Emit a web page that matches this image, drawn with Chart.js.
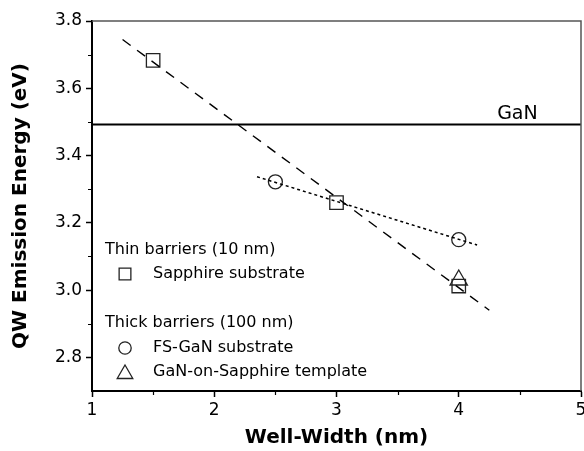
<!DOCTYPE html>
<html>
<head>
<meta charset="utf-8">
<script src="https://cdn.jsdelivr.net/npm/chart.js@4/dist/chart.umd.min.js"></script>
<style>
  html, body { margin: 0; padding: 0; background: #fff; }
  #wrap { width: 584px; height: 451px; }
</style>
</head>
<body>
<div id="wrap"><canvas id="qwChart"></canvas></div>
<script>
// 測定値
const sapphireX = [1.5, 3.0, 4.0];
const sapphireY = [3.683, 3.26, 3.012];
const fsGanX = [2.5, 4.0];
const fsGanY = [3.322, 3.15];
const templateX = [4.0];
const templateY = [3.03];

// フィット線(両端)
const thinFitX = [1.25, 4.25];
const thinFitY = [3.745, 2.94];
const thickFitX = [2.35, 4.15];
const thickFitY = [3.337, 3.134];

// GaN のバンド端
const ganX = [1, 5];
const ganY = [3.492, 3.492];

// 目盛り
const xTicks = [1, 2, 3, 4, 5];
const xMinorTicks = [1.5, 2.5, 3.5, 4.5];
const yTicks = [2.8, 3.0, 3.2, 3.4, 3.6, 3.8];
const yMinorTicks = [2.9, 3.1, 3.3, 3.5, 3.7];

// 凡例
const legendHeaders = ['Thin barriers (10 nm)', 'Thick barriers (100 nm)'];
const legendLabels = ['Sapphire substrate', 'FS-GaN substrate', 'GaN-on-Sapphire template'];

const FONT = "'DejaVu Sans', sans-serif";
const toPoints = (xs, ys) => xs.map((x, i) => ({ x: x, y: ys[i] }));

// マーカー描画(凡例用)
function marker(ctx, style, r, x, y) {
    ctx.save();
    ctx.strokeStyle = '#222';
    ctx.lineWidth = 1.3;
    ctx.beginPath();
    if (style === 'rect') {
        const s = Math.SQRT1_2 * r;
        ctx.rect(x - s, y - s, 2 * s, 2 * s);
    } else if (style === 'circle') {
        ctx.arc(x, y, r, 0, Math.PI * 2);
    } else {
        let a = 0;
        ctx.moveTo(x + Math.sin(a) * r, y - Math.cos(a) * r);
        a += Math.PI * 2 / 3;
        ctx.lineTo(x + Math.sin(a) * r, y - Math.cos(a) * r);
        a += Math.PI * 2 / 3;
        ctx.lineTo(x + Math.sin(a) * r, y - Math.cos(a) * r);
        ctx.closePath();
    }
    ctx.stroke();
    ctx.restore();
}

// 枠・副目盛り・x目盛りラベル・凡例・GaN ラベル
const extras = {
    id: 'extras',
    afterDraw(chart) {
        const ctx = chart.ctx;
        const a = chart.chartArea;
        const xs = chart.scales.x, ys = chart.scales.y;
        ctx.save();

        // 上と右の枠
        ctx.strokeStyle = '#555';
        ctx.lineWidth = 1.5;
        ctx.beginPath();
        ctx.moveTo(a.left, a.top);
        ctx.lineTo(a.right, a.top);
        ctx.lineTo(a.right, a.bottom);
        ctx.stroke();

        // 副目盛り
        ctx.strokeStyle = '#000';
        ctx.lineWidth = 1.2;
        ctx.beginPath();
        xMinorTicks.forEach(v => {
            const px = Math.round(xs.getPixelForValue(v)) + 0.5;
            ctx.moveTo(px, a.bottom);
            ctx.lineTo(px, a.bottom + 4);
        });
        yMinorTicks.forEach(v => {
            const py = Math.round(ys.getPixelForValue(v)) + 0.5;
            ctx.moveTo(a.left, py);
            ctx.lineTo(a.left - 4, py);
        });
        ctx.stroke();

        // x目盛りラベル
        ctx.fillStyle = '#000';
        ctx.font = '17px ' + FONT;
        ctx.textAlign = 'center';
        ctx.textBaseline = 'top';
        xTicks.forEach(v => {
            ctx.fillText(String(v), xs.getPixelForValue(v), a.bottom + 11);
        });

        // GaN ラベル
        ctx.font = '19px ' + FONT;
        ctx.textBaseline = 'alphabetic';
        ctx.fillText('GaN', xs.getPixelForValue(4.48), ys.getPixelForValue(ganY[0]) - 6);

        // 凡例
        ctx.font = '16px ' + FONT;
        ctx.textAlign = 'left';
        ctx.textBaseline = 'middle';
        const lx = a.left + 13;
        ctx.fillText(legendHeaders[0], lx, 250);
        marker(ctx, 'rect', 8.3, a.left + 33, 274);
        ctx.fillText(legendLabels[0], a.left + 61, 274);
        ctx.fillText(legendHeaders[1], lx, 323);
        marker(ctx, 'circle', 6.2, a.left + 33, 348);
        ctx.fillText(legendLabels[1], a.left + 61, 348);
        marker(ctx, 'triangle', 9, a.left + 33, 374);
        ctx.fillText(legendLabels[2], a.left + 61, 372);

        ctx.restore();
    }
};

new Chart(document.getElementById('qwChart'), {
    type: 'scatter',
    data: {
        datasets: [
            {
                data: toPoints(ganX, ganY),
                showLine: true,
                borderColor: '#000',
                borderWidth: 2,
                pointRadius: 0
            },
            {
                data: toPoints(thinFitX, thinFitY),
                showLine: true,
                borderColor: '#000',
                borderWidth: 1.4,
                borderDash: [10, 8],
                pointRadius: 0
            },
            {
                data: toPoints(thickFitX, thickFitY),
                showLine: true,
                borderColor: '#000',
                borderWidth: 1.5,
                borderDash: [3, 3],
                pointRadius: 0
            },
            {
                data: toPoints(sapphireX, sapphireY),
                pointStyle: 'rect',
                pointRadius: 9.5,
                pointBorderWidth: 1.3,
                pointBorderColor: '#222',
                pointBackgroundColor: 'rgba(0,0,0,0)'
            },
            {
                data: toPoints(fsGanX, fsGanY),
                pointStyle: 'circle',
                pointRadius: 7,
                pointBorderWidth: 1.3,
                pointBorderColor: '#222',
                pointBackgroundColor: 'rgba(0,0,0,0)'
            },
            {
                data: toPoints(templateX, templateY),
                pointStyle: 'triangle',
                pointRadius: 10,
                pointBorderWidth: 1.3,
                pointBorderColor: '#222',
                pointBackgroundColor: 'rgba(0,0,0,0)'
            }
        ]
    },
    options: {
        responsive: true,
        maintainAspectRatio: false,
        animation: false,
        events: [],
        layout: { autoPadding: false, padding: { top: 21, right: 3, left: 0, bottom: 0 } },
        plugins: {
            legend: { display: false },
            tooltip: { enabled: false }
        },
        scales: {
            x: {
                type: 'linear',
                min: 1,
                max: 5,
                afterBuildTicks: s => { s.ticks = xTicks.map(v => ({ value: v })); },
                afterFit: s => { s.height = 60; },
                grid: { drawOnChartArea: false, tickLength: 6, tickColor: '#000', tickWidth: 1.5 },
                border: { color: '#000', width: 2 },
                ticks: { display: false },
                title: { display: true, text: 'Well-Width (nm)', color: '#000', padding: { bottom: 1 }, font: { family: FONT, size: 20, weight: 'bold' } }
            },
            y: {
                type: 'linear',
                min: 2.7,
                max: 3.8,
                afterBuildTicks: s => { s.ticks = yTicks.map(v => ({ value: v })); },
                afterFit: s => { s.width = 92; },
                grid: { drawOnChartArea: false, tickLength: 6, tickColor: '#000', tickWidth: 1.5 },
                border: { color: '#000', width: 2 },
                ticks: { color: '#000', padding: 4, font: { family: FONT, size: 17 }, callback: v => v.toFixed(1) },
                title: { display: true, text: 'QW Emission Energy (eV)', color: '#000', padding: { top: 9 }, font: { family: FONT, size: 20, weight: 'bold' } }
            }
        }
    },
    plugins: [extras]
});
</script>
</body>
</html>
